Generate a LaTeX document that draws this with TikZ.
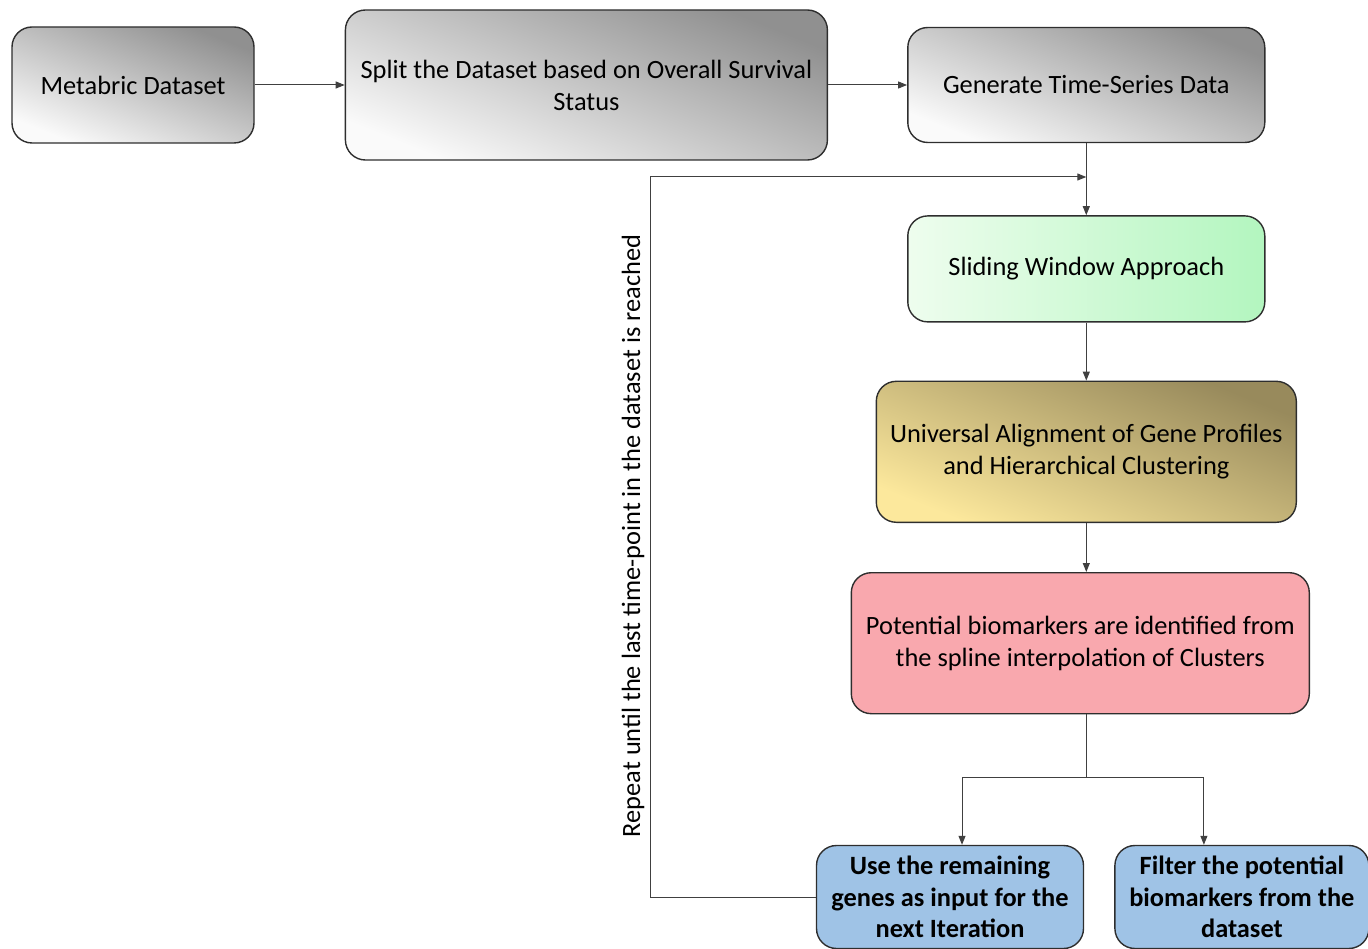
\documentclass[tikz,border=0pt]{standalone}
\usepackage{fontspec}
\setmainfont{Carlito}
\usetikzlibrary{arrows.meta, positioning, calc}

\definecolor{greydark}{HTML}{909090}
\definecolor{greylight}{HTML}{FAFAFA}
\definecolor{mintlight}{HTML}{EEFDEE}
\definecolor{mintdark}{HTML}{B3F6BF}
\definecolor{goldlight}{HTML}{FCE89C}
\definecolor{golddark}{HTML}{988A5C}
\definecolor{pinkfill}{HTML}{F9A8AE}
\definecolor{bluefill}{HTML}{9FC3E6}
\definecolor{edge}{HTML}{2E2E2E}
\definecolor{wire}{HTML}{404040}

\begin{document}
\begin{tikzpicture}[
    x=1pt, y=-1pt,
    box/.style={
        rectangle, rounded corners=20pt,
        draw=edge, line width=1.4pt,
        align=center, inner sep=4pt,
        font=\fontsize{26.4pt}{32pt}\selectfont},
    greybox/.style={box,
        top color=greydark, bottom color=greylight, shading angle=-22},
    mintbox/.style={box,
        left color=mintlight, right color=mintdark},
    goldbox/.style={box,
        top color=golddark, bottom color=goldlight, shading angle=-22},
    pinkbox/.style={box, fill=pinkfill},
    bluebox/.style={box, fill=bluefill,
        font=\fontsize{26.4pt}{31.5pt}\selectfont\bfseries},
    line/.style={draw=wire, line width=1pt},
    arr/.style={line, -{Triangle[length=9pt, width=7pt]}}]

\useasboundingbox (0,0) rectangle (1368,949);

\node[greybox, minimum width=242pt, minimum height=116pt] (meta) at (133,85) {Metabric Dataset};
\node[greybox, minimum width=482pt, minimum height=150pt, right=90pt of meta] (split)
    {Split the Dataset based on Overall Survival\\Status};
\node[greybox, minimum width=357pt, minimum height=115pt, right=79pt of split] (gen)
    {Generate Time-Series Data};
\node[mintbox, minimum width=357pt, minimum height=106pt, below=72pt of gen] (slide)
    {Sliding Window Approach};
\node[goldbox, minimum width=420pt, minimum height=141pt, below=58pt of slide] (univ)
    {Universal Alignment of Gene Profiles\\and Hierarchical Clustering};
\node[pinkbox, minimum width=458pt, minimum height=141pt, below=49pt of univ, xshift=-6pt] (pot)
    {Potential biomarkers are identified from\\the spline interpolation of Clusters};
\node[bluebox, minimum width=267pt, minimum height=103pt] (use) at (950,897)
    {Use the remaining\\genes as input for the\\next Iteration};
\node[bluebox, minimum width=254pt, minimum height=103pt, right=30pt of use] (filt)
    {Filter the potential\\biomarkers from the\\dataset};

\node[rotate=90, font=\fontsize{26.4pt}{32pt}\selectfont] (repeat) at (633,536)
    {Repeat until the last time-point in the dataset is reached};

\coordinate (forkrow) at (0,777);
\coordinate (fork)    at (gen.south |- forkrow);
\coordinate (loop)    at (650,177);
\coordinate (merge)   at (loop -| gen.south);

% Main flow
\draw[arr] (meta)  -- (split);
\draw[arr] (split) -- (gen);
\draw[arr] (gen)   -- (slide);
\draw[arr] (slide) -- (univ);
\draw[arr] (univ.south) -- ([xshift=6pt]pot.north);

% Branches
\draw[line] ([xshift=6pt]pot.south) -- (fork);
\draw[arr] (fork) -| ([xshift=12pt]use.north);
\draw[arr] (fork) -| ([xshift=-38pt]filt.north);

% Loop back
\draw[arr] (use.west) -| (loop) -- (merge);

\end{tikzpicture}
\end{document}
